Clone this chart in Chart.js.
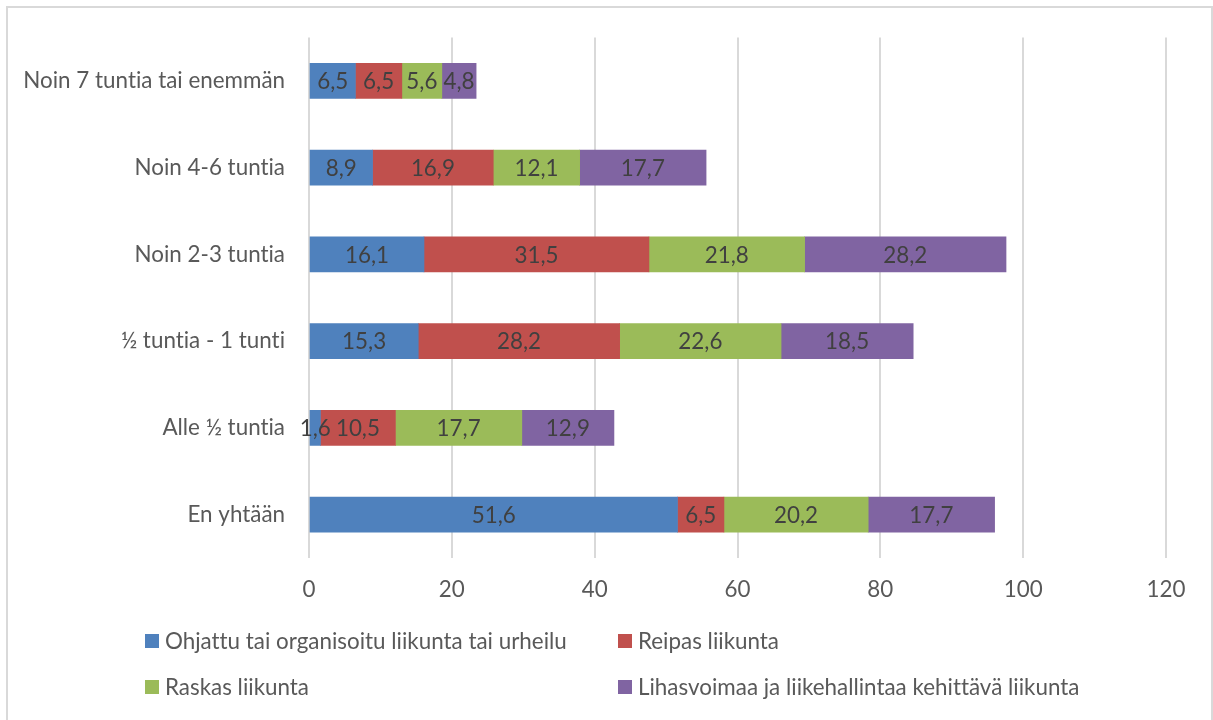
<!DOCTYPE html>
<html>
<head>
<meta charset="utf-8">
<script src="https://cdn.jsdelivr.net/npm/chart.js@4"></script>
<style>
  body { margin: 0; background: #fff; }
  #frame { position: absolute; left: 6px; top: 6px; width: 1203px; height: 730px; border: 2px solid #d9d9d9; }
  #wrap { position: absolute; left: 0; top: 0; width: 1213px; height: 720px; }
  #legend { position: absolute; left: 145px; top: 627px; width: 960px; font-family: Lato, sans-serif; font-size: 22.4px; color: #595959; font-variant-ligatures: none; }
  .item { position: absolute; display: flex; align-items: center; white-space: nowrap; }
  .box { width: 14px; height: 14px; margin-right: 6px; }
</style>
</head>
<body>
<div id="frame"></div>
<div id="wrap"><canvas id="chart" width="1213" height="720"></canvas></div>
<div id="legend"></div>
<script>
// categories, top to bottom
const categories = ["Noin 7 tuntia tai enemmän", "Noin 4-6 tuntia", "Noin 2-3 tuntia", "½ tuntia - 1 tunti", "Alle ½ tuntia", "En yhtään"];
const seriesNames = ["Ohjattu tai organisoitu liikunta tai urheilu", "Reipas liikunta", "Raskas liikunta", "Lihasvoimaa ja liikehallintaa kehittävä liikunta"];
const ohjattu = [6.5, 8.9, 16.1, 15.3, 1.6, 51.6];
const reipas = [6.5, 16.9, 31.5, 28.2, 10.5, 6.5];
const raskas = [5.6, 12.1, 21.8, 22.6, 17.7, 20.2];
const lihas = [4.8, 17.7, 28.2, 18.5, 12.9, 17.7];
const xTicks = [0, 20, 40, 60, 80, 100, 120];
const colors = ["#4f81bd", "#c0504d", "#9bbb59", "#8064a2"];

const FONT = "Lato";
const SIZE = 22.4;
const fmt = v => v.toFixed(1).replace(".", ",");

// no "ti" ligatures, like the original
const noLigatures = {
  id: "noLigatures",
  beforeDraw(chart){ chart.ctx.textRendering = "optimizeSpeed"; }
};

// draw value labels in the middle of each segment
const barLabels = {
  id: "barLabels",
  afterDatasetsDraw(chart){
    const ctx = chart.ctx;
    ctx.save();
    ctx.font = SIZE + "px " + FONT;
    ctx.fillStyle = "#404040";
    ctx.textAlign = "center";
    ctx.textBaseline = "middle";
    chart.data.datasets.forEach((ds, i) => {
      chart.getDatasetMeta(i).data.forEach((bar, j) => {
        const cx = (bar.x + bar.base) / 2;
        ctx.fillText(fmt(ds.data[j]), cx, bar.y + 1);
      });
    });
    ctx.restore();
  }
};

const allSeries = [ohjattu, reipas, raskas, lihas];

new Chart(document.getElementById("chart"), {
  type: "bar",
  data: {
    labels: categories,
    datasets: allSeries.map((d, i) => ({
      label: seriesNames[i],
      data: d,
      backgroundColor: colors[i],
      barThickness: 35
    }))
  },
  options: {
    indexAxis: "y",
    responsive: false,
    animation: false,
    layout: { padding: { left: 0, top: 36, right: 47, bottom: 112 } },
    plugins: { legend: { display: false }, tooltip: { enabled: false } },
    scales: {
      x: {
        stacked: true,
        min: 0, max: 120,
        afterBuildTicks: s => { s.ticks = xTicks.map(v => ({ value: v })); },
        afterFit: s => { s.height = 50; },
        grid: { color: "#d9d9d9", lineWidth: 2, drawTicks: false },
        border: { display: false },
        ticks: { padding: 18, color: "#595959", font: { family: FONT, size: SIZE } }
      },
      y: {
        stacked: true,
        afterFit: s => { s.width = 309; },
        grid: { display: false, drawTicks: false },
        border: { display: false },
        ticks: { padding: 24, color: "#595959", font: { family: FONT, size: SIZE } }
      }
    }
  },
  plugins: [noLigatures, barLabels]
});

// legend in two columns like the original
const legend = document.getElementById("legend");
const pos = [[0, 0], [473, 0], [0, 46], [473, 46]];
seriesNames.forEach((name, i) => {
  const it = document.createElement("div");
  it.className = "item";
  it.style.left = pos[i][0] + "px";
  it.style.top = pos[i][1] + "px";
  it.innerHTML = `<span class="box" style="background:${colors[i]}"></span><span>${name}</span>`;
  legend.appendChild(it);
});
</script>
</body>
</html>
